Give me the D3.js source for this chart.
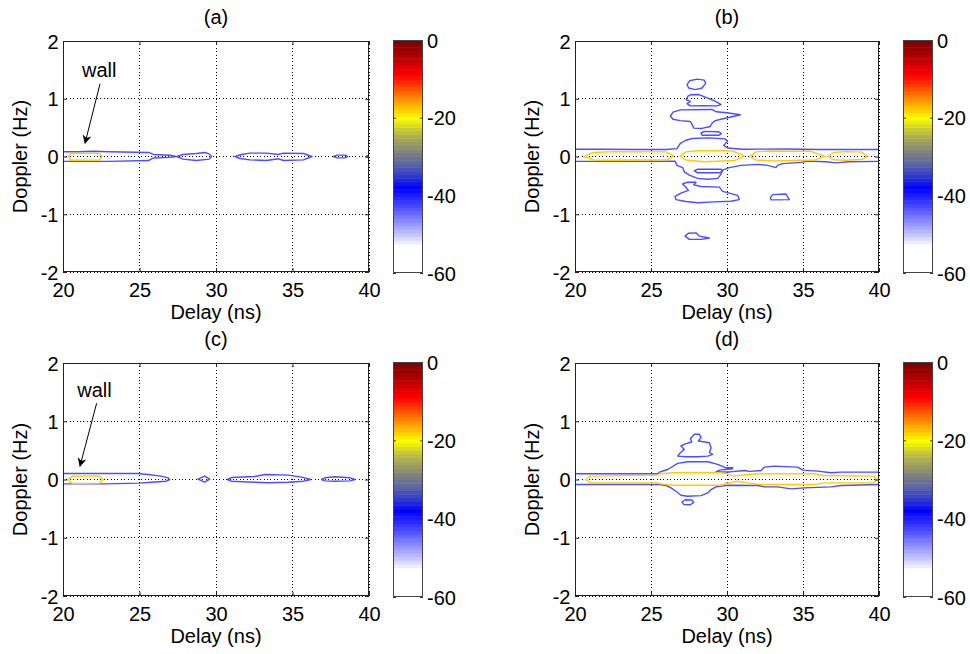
<!DOCTYPE html>
<html>
<head>
<meta charset="utf-8">
<script src="https://cdn.jsdelivr.net/npm/d3@7/dist/d3.min.js"></script>
<style>
  body { margin: 0; background: #fff; }
  svg text { font-family: "Liberation Sans", Arial, sans-serif; fill: #000; }
</style>
</head>
<body>
<svg id="chart" width="970" height="654"></svg>
<script>
// axis ticks
const delayTicks = [20, 25, 30, 35, 40];
const dopplerTicks = [2, 1, 0, -1, -2];
const cbarTicks = [0, -20, -40, -60];
const panelTitles = ['(a)', '(b)', '(c)', '(d)'];

// colormap (dB -> colour)
const cmapLevels = [0, -3, -6, -9, -12, -15, -18, -20, -23, -26, -29, -32, -35, -38, -42, -46, -50, -53, -60];
const cmapColors = ['#7f0000', '#a00000', '#d00000', '#ff0000', '#ff4400', '#ff8c00', '#ffcc00', '#ffff00',
  '#c8c83c', '#a0a060', '#808080', '#5a64a8', '#3038d0', '#0000ff', '#3c3cff', '#8080ff', '#c4c4ff', '#ffffff', '#ffffff'];
const blueLevel = -43;
const yellowLevel = -18;

// contours, points are [delay ns, doppler Hz]
// "Edge" = open lines that run into the plot border
const aEdge = [
  [[20, 0.083], [21, 0.083], [22, 0.092], [23, 0.083], [25.6, 0.07], [25.9, 0.035], [27, 0.022], [27.4, 0],
   [27, -0.015], [25.9, -0.025], [25.6, -0.07], [23, -0.085], [20, -0.085]]
];
const aBlue = [
  [[27.45, 0], [27.84, 0.035], [28.72, 0.052], [29.27, 0.069], [29.55, 0.046], [29.7, 0], [29.55, -0.046], [28.72, -0.069], [27.84, -0.046]],
  [[31.24, 0], [31.67, 0.035], [32.22, 0.058], [33.31, 0.058], [34.08, 0.035], [34.41, 0.058], [35.72, 0.052], [36.27, 0],
   [35.72, -0.058], [34.41, -0.069], [34.08, -0.04], [33.31, -0.069], [32.22, -0.058], [31.56, -0.035]],
  [[37.69, 0], [37.91, 0.023], [38.46, 0.023], [38.61, 0], [38.46, -0.023], [37.91, -0.023]],
  [[39.8, 0], [39.9, 0.015], [40, 0], [39.9, -0.015]]
];
const aYellow = [
  [[20.36, 0], [20.51, 0.052], [22.37, 0.058], [22.55, 0], [22.37, -0.062], [20.51, -0.066]]
];

const bEdge = [
  [[20, 0.125], [22, 0.125], [24, 0.12], [26, 0.12], [26.71, 0.136], [26.93, 0.226], [27.26, 0.277], [27.7, 0.311],
   [28.79, 0.322], [29.89, 0.305], [30.04, 0.266], [29.78, 0.192], [30.04, 0.147], [31, 0.125], [33.9, 0.13],
   [36, 0.12], [38, 0.12], [40, 0.12]],
  [[20, -0.085], [24, -0.085], [26.58, -0.08], [26.71, -0.153], [27.08, -0.192], [27.19, -0.266], [27.52, -0.322],
   [28.07, -0.379], [28.73, -0.395], [29.39, -0.379], [29.56, -0.322], [29.71, -0.237], [30.15, -0.192],
   [30.92, -0.153], [32.02, -0.136], [32.68, -0.153], [33.22, -0.192], [33.33, -0.153], [33.66, -0.124],
   [34.87, -0.102], [35.31, -0.08], [36.5, -0.09], [37.2, -0.11], [38, -0.09], [40, -0.085]]
];
const bBlue = [
  [[27.37, 1.243], [27.54, 1.311], [28.03, 1.339], [28.51, 1.322], [28.6, 1.266], [28.36, 1.186], [27.92, 1.158], [27.48, 1.186]],
  [[27.41, 1.04], [27.59, 1.068], [28.14, 1.073], [28.57, 1.028], [29.01, 0.983], [29.39, 0.932], [29.61, 0.898],
   [29.34, 0.876], [28.46, 0.881], [27.59, 0.876], [27.37, 0.915], [27.59, 0.955], [27.32, 0.983]],
  [[26.27, 0.701], [26.45, 0.768], [26.93, 0.808], [29.01, 0.814], [29.3, 0.774], [30, 0.757], [30.88, 0.723],
   [30.33, 0.689], [29.67, 0.65], [29.23, 0.621], [29.01, 0.576], [28.9, 0.52], [28.36, 0.486], [27.81, 0.492],
   [27.72, 0.548], [27.59, 0.605], [26.93, 0.621], [26.45, 0.644]],
  [[28.29, 0.407], [28.51, 0.435], [29.45, 0.429], [29.63, 0.395], [29.45, 0.367], [28.36, 0.367]],
  [[27.85, -0.249], [28.07, -0.22], [29.61, -0.22], [29.71, -0.249], [29.5, -0.282], [28.07, -0.282]],
  [[27.08, -0.475], [27.41, -0.446], [27.96, -0.446], [27.81, -0.492], [28.29, -0.52], [29.5, -0.531], [29.71, -0.605],
   [30.15, -0.633], [30.7, -0.672], [30.81, -0.746], [30.26, -0.774], [29.17, -0.785], [28.07, -0.802], [27.3, -0.78],
   [26.64, -0.746], [26.58, -0.689], [26.97, -0.633], [27.46, -0.588], [27.3, -0.531]],
  [[32.85, -0.718], [33, -0.661], [33.88, -0.65], [33.99, -0.701], [34.1, -0.746], [32.89, -0.751]],
  [[27.24, -1.379], [27.46, -1.328], [27.96, -1.322], [28.18, -1.379], [28.84, -1.412], [28.29, -1.435], [27.52, -1.435]]
];
const bYellow = [
  [[20.6, 0], [21.2, 0.07], [22.5, 0.085], [26, 0.08], [26.5, 0.01], [26.1, -0.055], [22.5, -0.065], [21.2, -0.06]],
  [[26.9, 0.005], [27.3, 0.08], [28, 0.1], [30.3, 0.1], [31.15, 0.01], [30.5, -0.07], [28.5, -0.09], [27.3, -0.06]],
  [[31.5, 0], [31.9, 0.08], [32.8, 0.095], [35.5, 0.09], [36.45, 0.005], [35.8, -0.06], [33, -0.075], [31.9, -0.06]],
  [[36.6, 0], [37, 0.07], [37.8, 0.085], [38.9, 0.075], [39.2, 0.005], [38.9, -0.05], [37.8, -0.065], [37, -0.055]]
];

const cEdge = [
  [[20, 0.103], [24.89, 0.103], [25.55, 0.086], [26.42, 0.057], [26.86, 0.029], [26.97, 0], [26.75, -0.029],
   [25.76, -0.046], [25, -0.063], [22.71, -0.075], [20, -0.075]]
];
const cBlue = [
  [[28.82, 0.006], [29.26, 0.057], [29.59, 0.006], [29.26, -0.046]],
  [[30.74, 0], [31, 0.034], [32.53, 0.052], [33.19, 0.086], [34.72, 0.075], [35.59, 0.04], [36.2, 0], [35.7, -0.029],
   [34.72, -0.046], [33.41, -0.057], [32.53, -0.046], [31, -0.029]],
  [[36.9, 0], [37.12, 0.029], [37.77, 0.046], [38.76, 0.029], [39.08, 0], [38.76, -0.023], [37.77, -0.029], [37.12, -0.023]]
];
const cYellow = [
  [[20.31, 0], [20.63, 0.057], [22.38, 0.063], [22.64, 0], [22.38, -0.063], [20.63, -0.069]]
];

const dEdge = [
  [[20, 0.1], [25.44, 0.1], [25.55, 0.126], [26.1, 0.172], [26.75, 0.276], [27.41, 0.305], [28.73, 0.305],
   [29.39, 0.259], [29.93, 0.201], [30.37, 0.201], [30.37, 0.185], [29.5, 0.161], [29.28, 0.13], [30.2, 0.13],
   [31.14, 0.155], [31.5, 0.14], [32.24, 0.155], [32.46, 0.213], [33.11, 0.23], [34.65, 0.213], [34.98, 0.161],
   [35.96, 0.144], [36.84, 0.115], [37.5, 0.127], [40, 0.127]],
  [[20, -0.085], [25.55, -0.086], [25.99, -0.103], [26.32, -0.144], [26.64, -0.201], [26.97, -0.27], [27.41, -0.287],
   [28.29, -0.276], [28.73, -0.23], [28.95, -0.172], [29.28, -0.126], [30.04, -0.098], [32.02, -0.103],
   [32.46, -0.126], [33.33, -0.126], [34.21, -0.161], [35.09, -0.144], [36.84, -0.126], [37.5, -0.103], [40, -0.087]]
];
const dBlue = [
  [[27.85, 0.776], [28.18, 0.776], [28.29, 0.718], [28.11, 0.661], [28.55, 0.644], [28.84, 0.632], [28.95, 0.546],
   [28.84, 0.46], [29.06, 0.431], [28.73, 0.402], [28.07, 0.391], [27.3, 0.391], [26.75, 0.402], [26.93, 0.46],
   [27.19, 0.517], [26.97, 0.575], [27.3, 0.615], [27.68, 0.644], [27.59, 0.701]],
  [[27.04, -0.387], [27.26, -0.347], [27.7, -0.353], [27.81, -0.393], [27.59, -0.434], [27.15, -0.428]]
];
const dYellow = [
  [[20.68, 0], [21.01, 0.058], [25.39, 0.075], [25.61, 0.098], [26.49, 0.116], [29.56, 0.116], [30, 0.098],
   [30.44, 0.058], [31.32, 0.087], [32.19, 0.098], [35.7, 0.098], [36.36, 0.069], [39.65, 0.058], [39.87, 0],
   [39.65, -0.058], [36.36, -0.058], [35.7, -0.087], [32.19, -0.087], [31.32, -0.058], [30.66, -0.029],
   [30, -0.069], [29.56, -0.098], [26.49, -0.098], [25.61, -0.075], [25.39, -0.058], [21.01, -0.058]]
];

// "wall" annotation: [label position, arrow start, arrow tip]
const wallA = [[22.37, 1.38], [22.42, 1.26], [21.44, 0.23]];
const wallC = [[22.06, 1.41], [22.2, 1.31], [21.11, 0.23]];

// ---------------------------------------------------------------
const svg = d3.select('#chart');
const fontSize = 20;
const plain = d => String(d); // hyphen minus like the original

const cmap = d3.scaleLinear().domain(cmapLevels).range(cmapColors).clamp(true);

const layout = [
  { x: 63, y: 41, w: 306, h: 231, cx: 393 },
  { x: 575, y: 41, w: 304, h: 231, cx: 903 },
  { x: 63, y: 363, w: 306, h: 233, cx: 393 },
  { x: 575, y: 363, w: 304, h: 233, cx: 903 }
];
const panels = [
  { edge: aEdge, blue: aBlue, yellow: aYellow, wall: wallA },
  { edge: bEdge, blue: bBlue, yellow: bYellow, wall: null },
  { edge: cEdge, blue: cBlue, yellow: cYellow, wall: wallC },
  { edge: dEdge, blue: dBlue, yellow: dYellow, wall: null }
];

svg.append('defs').append('marker')
  .attr('id', 'arrowhead')
  .attr('viewBox', '0 0 10 10')
  .attr('refX', 9).attr('refY', 5)
  .attr('markerWidth', 12).attr('markerHeight', 9)
  .attr('markerUnits', 'userSpaceOnUse')
  .attr('orient', 'auto')
  .append('path')
  .attr('d', 'M0,0 L10,5 L0,10 L3,5 Z')
  .attr('fill', '#000');

panels.forEach((p, i) => {
  const L = layout[i];
  const x = d3.scaleLinear().domain([20, 40]).range([L.x, L.x + L.w]);
  const y = d3.scaleLinear().domain([-2, 2]).range([L.y + L.h, L.y]);

  const clipId = 'clip' + i;
  svg.select('defs').append('clipPath').attr('id', clipId)
    .append('rect').attr('x', L.x).attr('y', L.y).attr('width', L.w).attr('height', L.h);

  const g = svg.append('g');

  // grid
  g.append('g').selectAll('line').data(delayTicks).join('line')
    .attr('x1', d => x(d)).attr('x2', d => x(d))
    .attr('y1', L.y).attr('y2', L.y + L.h)
    .attr('stroke', '#000').attr('stroke-width', 1).attr('stroke-dasharray', '1,2.4')
    .attr('shape-rendering', 'crispEdges');
  g.append('g').selectAll('line').data(dopplerTicks).join('line')
    .attr('y1', d => y(d)).attr('y2', d => y(d))
    .attr('x1', L.x).attr('x2', L.x + L.w)
    .attr('stroke', '#000').attr('stroke-width', 1).attr('stroke-dasharray', '1,2.4')
    .attr('shape-rendering', 'crispEdges');

  // contours
  const openLine = d3.line().x(d => x(d[0])).y(d => y(d[1]));
  const closedLine = d3.line().x(d => x(d[0])).y(d => y(d[1])).curve(d3.curveLinearClosed);
  const cg = g.append('g').attr('clip-path', `url(#${clipId})`).attr('fill', 'none').attr('stroke-width', 1.4)
    .attr('stroke-linejoin', 'round');
  cg.selectAll('path.edge').data(p.edge).join('path').attr('class', 'edge').attr('d', openLine).attr('stroke', cmap(blueLevel));
  cg.selectAll('path.blue').data(p.blue).join('path').attr('class', 'blue').attr('d', closedLine).attr('stroke', cmap(blueLevel));
  cg.selectAll('path.yellow').data(p.yellow).join('path').attr('class', 'yellow').attr('d', closedLine).attr('stroke', cmap(yellowLevel));

  // axes
  const axB = g.append('g').attr('transform', `translate(0,${L.y + L.h})`)
    .call(d3.axisBottom(x).tickValues(delayTicks).tickSize(-4).tickPadding(10.5).tickFormat(plain));
  const axL = g.append('g').attr('transform', `translate(${L.x},0)`)
    .call(d3.axisLeft(y).tickValues(dopplerTicks).tickSize(-4).tickPadding(4.5).tickFormat(plain));
  const axT = g.append('g').attr('transform', `translate(0,${L.y})`)
    .call(d3.axisTop(x).tickValues(delayTicks).tickSize(-4).tickFormat(''));
  const axR = g.append('g').attr('transform', `translate(${L.x + L.w},0)`)
    .call(d3.axisRight(y).tickValues(dopplerTicks).tickSize(-4).tickFormat(''));
  [axB, axL, axT, axR].forEach(a => {
    a.attr('font-family', null).attr('font-size', fontSize);
    a.select('.domain').remove();
    a.selectAll('line').attr('stroke', '#222');
  });
  axL.selectAll('text').attr('dy', '0.36em');

  g.append('rect').attr('x', L.x + 0.5).attr('y', L.y + 0.5).attr('width', L.w - 1).attr('height', L.h - 1)
    .attr('fill', 'none').attr('stroke', '#222').attr('stroke-width', 1);

  // labels
  g.append('text').attr('x', L.x + L.w / 2).attr('y', L.y - 17).attr('text-anchor', 'middle')
    .attr('font-size', fontSize).text(panelTitles[i]);
  g.append('text').attr('x', L.x + L.w / 2).attr('y', L.y + L.h + 47).attr('text-anchor', 'middle')
    .attr('font-size', fontSize).text('Delay (ns)');
  g.append('text').attr('transform', `translate(${L.x - 36.5},${L.y + L.h / 2}) rotate(-90)`)
    .attr('text-anchor', 'middle').attr('font-size', fontSize).text('Doppler (Hz)');

  // wall annotation
  if (p.wall) {
    g.append('text').attr('x', x(p.wall[0][0])).attr('y', y(p.wall[0][1])).attr('text-anchor', 'middle')
      .attr('font-size', fontSize).text('wall');
    g.append('line')
      .attr('x1', x(p.wall[1][0])).attr('y1', y(p.wall[1][1]))
      .attr('x2', x(p.wall[2][0])).attr('y2', y(p.wall[2][1]))
      .attr('stroke', '#000').attr('stroke-width', 1).attr('marker-end', 'url(#arrowhead)');
  }

  // colorbar
  const cbY = d3.scaleLinear().domain([-60, 0]).range([L.y + L.h + 1, L.y - 1]);
  const cbW = 30;
  const nBands = 64;
  const bands = d3.range(nBands).map(k => -60 + k * 60 / nBands);
  const cb = svg.append('g');
  cb.selectAll('rect').data(bands).join('rect')
    .attr('x', L.cx).attr('width', cbW)
    .attr('y', d => cbY(d + 60 / nBands))
    .attr('height', d => cbY(d) - cbY(d + 60 / nBands) + 0.5)
    .attr('fill', d => cmap(d + 30 / nBands));
  const cbAx = cb.append('g').attr('transform', `translate(${L.cx + cbW},0)`)
    .call(d3.axisRight(cbY).tickValues(cbarTicks).tickSize(-3).tickPadding(4).tickFormat(plain));
  cbAx.attr('font-family', null).attr('font-size', fontSize);
  cbAx.select('.domain').remove();
  cbAx.selectAll('line').attr('stroke', '#333');
  cbAx.selectAll('text').attr('dy', '0.36em');
  cb.append('g').attr('transform', `translate(${L.cx},0)`)
    .call(d3.axisLeft(cbY).tickValues(cbarTicks).tickSize(-3).tickFormat(''))
    .call(a => { a.select('.domain').remove(); a.selectAll('line').attr('stroke', '#333'); });
  cb.append('rect').attr('x', L.cx + 0.5).attr('y', cbY(0) + 0.5).attr('width', cbW - 1)
    .attr('height', cbY(-60) - cbY(0) - 1)
    .attr('fill', 'none').attr('stroke', '#444').attr('stroke-width', 1);
});
</script>
</body>
</html>
